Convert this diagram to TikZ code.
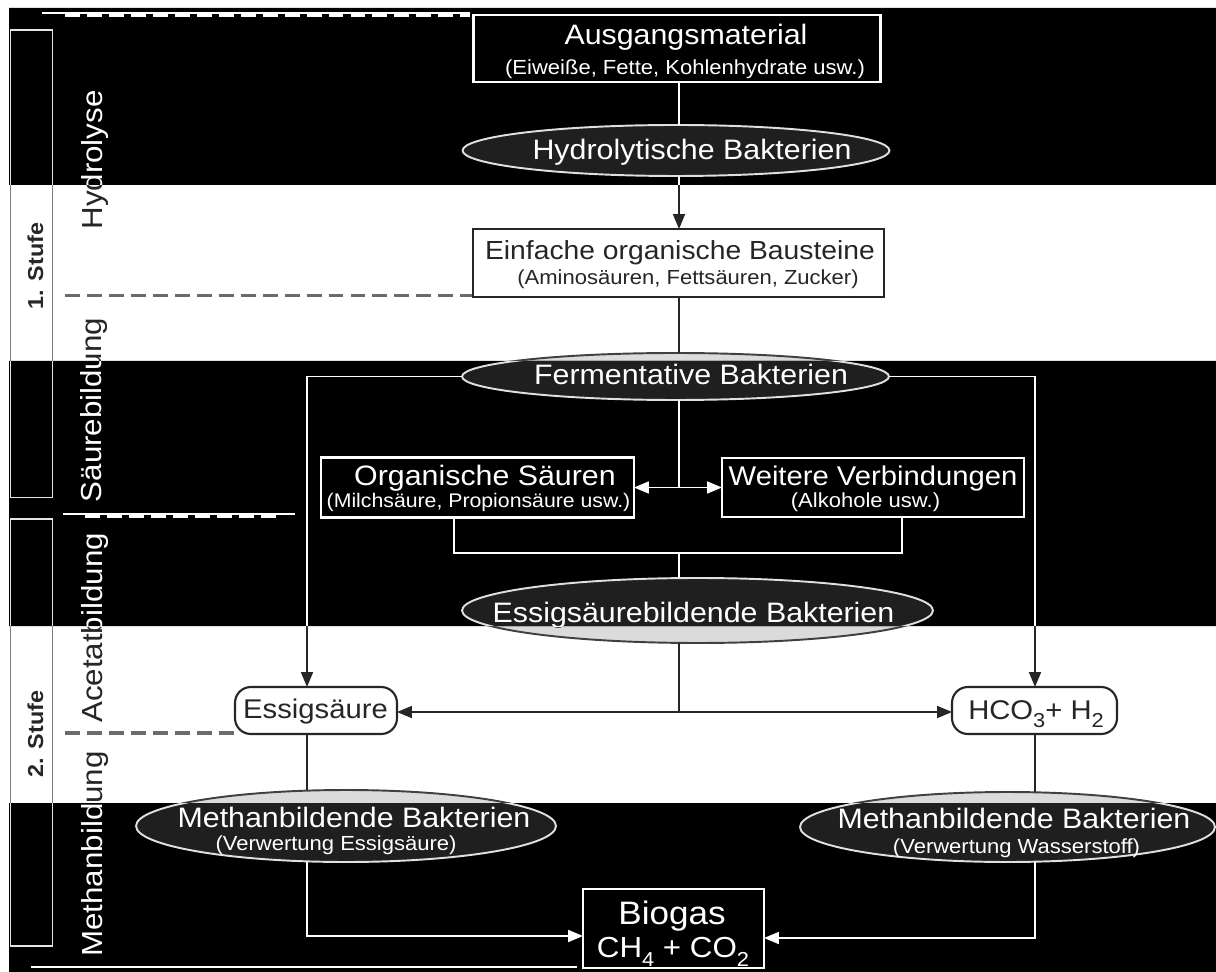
\documentclass[tikz,border=0pt]{standalone}
\usepackage{fontspec}
\setmainfont{Liberation Sans}[FakeStretch=1.08]
\usetikzlibrary{arrows.meta,shapes.geometric}

\colorlet{fgc}{black!85}
\colorlet{boxc}{white}
\colorlet{ellc}{black!14}
\colorlet{elldc}{black!75}
\colorlet{dashc}{black!58}
\colorlet{sidec}{black!50}

\newcommand\chemsub[1]{\raisebox{-0.32em}{\fontsize{11.5}{12}\selectfont #1}}
\newcommand\fs[1]{\fontsize{#1}{#1}\selectfont}

\tikzset{
  every node/.style={inner sep=0pt, outer sep=0pt, text=fgc},
  boxn/.style={rectangle, draw=fgc, fill=boxc, line width=1.2pt},
  rboxn/.style={boxn, rounded corners=9pt},
  elln/.style={ellipse, draw=elldc, fill=ellc, line width=1.1pt},
  sidebox/.style={rectangle, draw=sidec, line width=0.8pt},
  conn/.style={draw=fgc, line width=1.1pt},
  arr/.style={conn, -{Triangle[length=8.5pt,width=6.8pt]}},
  dbl/.style={conn, {Triangle[length=8.5pt,width=6.8pt]}-{Triangle[length=8.5pt,width=6.8pt]}},
  sepd/.style={draw=dashc, line width=1.8pt, dash pattern=on 8.5pt off 4pt},
  seps/.style={draw=dashc, line width=1pt},
  bigT/.style={anchor=base, font=\fs{16}},
  subT/.style={anchor=base, font=\fs{11.6}},
  lbl/.style={anchor=base, rotate=90, font=\fs{16.5}},
  stufe/.style={anchor=base, rotate=90, font=\bfseries\fs{12.3}},
}

\newcommand\drawdiagram{%
  % phase frames and labels
  \node[sidebox, minimum width=0.84cm, minimum height=9.35cm] (st1) at (31.5,263.75) {};
  \node[stufe] (st1T) at (43,266) {1. Stufe};
  \node[sidebox, minimum width=0.84cm, minimum height=8.54cm] (st2) at (31.5,732.5) {};
  \node[stufe] (st2T) at (43,734) {2. Stufe};
  \node[lbl] (lh) at (102,160) {Hydrolyse};
  \node[lbl] (ls) at (101,410) {Säurebildung};
  \node[lbl] (la) at (102,628) {Acetatbildung};
  \node[lbl] (lm) at (102,854) {Methanbildung};
  % separators
  \draw[seps] (42,13) -- (470,13);
  \draw[sepd] (65,15.5) -- (470,15.5);
  \draw[sepd] (65,295.5) -- (473,295.5);
  \draw[seps] (63,514) -- (295,514);
  \draw[sepd] (85,516) -- (280,516);
  \draw[sepd] (65,733) -- (235,733);
  \draw[seps] (31,967) -- (577,967);
  % nodes
  \node[boxn, minimum width=8.14cm, minimum height=1.34cm] (aus) at (677,48.5) {};
  \node[bigT] (ausA) at (686,45) {Ausgangsmaterial};
  \node[subT] (ausB) at (685,75) {(Eiweiße, Fette, Kohlenhydrate usw.)};
  \node[elln, minimum width=8.54cm, minimum height=1.02cm] (hyd) at (676,150.5) {};
  \node[bigT] (hydA) at (692,160) {Hydrolytische Bakterien};
  \node[boxn, minimum width=8.22cm, minimum height=1.36cm] (ein) at (678.5,263) {};
  \node[bigT, font=\fs{14.9}] (einA) at (680,260) {Einfache organische Bausteine};
  \node[subT] (einB) at (688,285) {(Aminosäuren, Fettsäuren, Zucker)};
  \node[elln, minimum width=8.54cm, minimum height=0.94cm] (ferm) at (675.5,376.5) {};
  \node[bigT] (fermA) at (691,385) {Fermentative Bakterien};
  \node[boxn, minimum width=6.26cm, minimum height=1.2cm] (org) at (477.5,487.5) {};
  \node[bigT] (orgA) at (485,486) {Organische Säuren};
  \node[subT, font=\fs{11.2}] (orgB) at (478.5,508) {(Milchsäure, Propionsäure usw.)};
  \node[boxn, minimum width=6.04cm, minimum height=1.18cm] (wei) at (873,487.5) {};
  \node[bigT, font=\fs{15.4}] (weiA) at (873,486) {Weitere Verbindungen};
  \node[subT] (weiB) at (865.5,508) {(Alkohole usw.)};
  \node[elln, minimum width=9.42cm, minimum height=1.3cm] (essb) at (697.5,610.5) {};
  \node[bigT] (essbA) at (693.5,622) {Essigsäurebildende Bakterien};
  \node[rboxn, minimum width=3.24cm, minimum height=0.94cm] (essa) at (316,710.5) {};
  \node[bigT, font=\fs{15.4}] (essaA) at (315.5,718) {Essigsäure};
  \node[rboxn, minimum width=3.3cm, minimum height=0.94cm] (hco) at (1034.5,710.5) {};
  \node[bigT, font=\fs{15.4}] (hcoA) at (1036,719) {HCO\chemsub{3}+ H\chemsub{2}};
  \node[elln, minimum width=8.4cm, minimum height=1.44cm] (mbl) at (346,826) {};
  \node[bigT] (mblA) at (354,827) {Methanbildende Bakterien};
  \node[subT] (mblB) at (336,850) {(Verwertung Essigsäure)};
  \node[elln, minimum width=8.3cm, minimum height=1.4cm] (mbr) at (1007.5,827) {};
  \node[bigT] (mbrA) at (1014,828) {Methanbildende Bakterien};
  \node[subT] (mbrB) at (1016.5,853) {(Verwertung Wasserstoff)};
  \node[boxn, minimum width=3.62cm, minimum height=1.58cm] (bio) at (673.5,928.5) {};
  \node[bigT, font=\fs{18.5}] (bioA) at (672,924) {Biogas};
  \node[bigT, font=\fs{16.5}] (bioB) at (673,957) {CH\chemsub{4} + CO\chemsub{2}};
  % connectors
  \draw[conn] (aus.south -| spine) -- (hyd.north -| spine);
  \draw[arr] (hyd.south -| spine) -- (ein.north -| spine);
  \draw[conn] (ein.south -| spine) -- (ferm.north -| spine);
  \draw[arr] (ferm.west) -| (essa.north -| lx);
  \draw[arr] (ferm.east) -| (hco.north -| rx);
  \draw[conn] (ferm.south -| spine) -- (spine |- org.east);
  \draw[dbl] (org.east) -- (wei.west);
  \draw[conn] (org.south -| bxl) |- (brk) -| (wei.south -| bxr);
  \draw[conn] (brk) -- (essb.north -| spine);
  \draw[conn] (essb.south -| spine) -- (spine |- ah);
  \draw[arr] (spine |- ah) -- (essa.east |- ah);
  \draw[arr] (spine |- ah) -- (hco.west |- ah);
  \draw[conn] (essa.south -| lx) -- (mbl.north -| lx);
  \draw[conn] (hco.south -| rx) -- (mbr.north -| rx);
  \draw[arr] (mbl.south -| lx) |- (bio.west |- bl2);
  \draw[arr] (mbr.south -| rx) |- (bio.east |- br2);
}

\begin{document}
\begin{tikzpicture}[x=0.02cm,y=-0.02cm]
\useasboundingbox (0,0) rectangle (1216,972);
\coordinate (spine) at (679,0);
\coordinate (lx) at (307,0);
\coordinate (rx) at (1035,0);
\coordinate (bxl) at (454,0);
\coordinate (bxr) at (902,0);
\coordinate (brk) at (679,553);
\coordinate (ah) at (0,712);
\coordinate (bl2) at (0,936);
\coordinate (br2) at (0,938);
% light bands (normal colours)
\begin{scope}
  \fill[white] (0,0) rectangle (1216,972);
  \drawdiagram
\end{scope}
% dark bands (inverted colours)
\begin{scope}
  \clip (9,8) rectangle (1216,185) (9,361) rectangle (1216,626) (9,803) rectangle (1216,972);
  \colorlet{fgc}{white}
  \colorlet{boxc}{black}
  \colorlet{ellc}{black!88}
  \colorlet{elldc}{white!88!black}
  \colorlet{dashc}{white}
  \colorlet{sidec}{white!90!black}
  \fill[black] (0,0) rectangle (1216,972);
  \drawdiagram
\end{scope}
\end{tikzpicture}
\end{document}
